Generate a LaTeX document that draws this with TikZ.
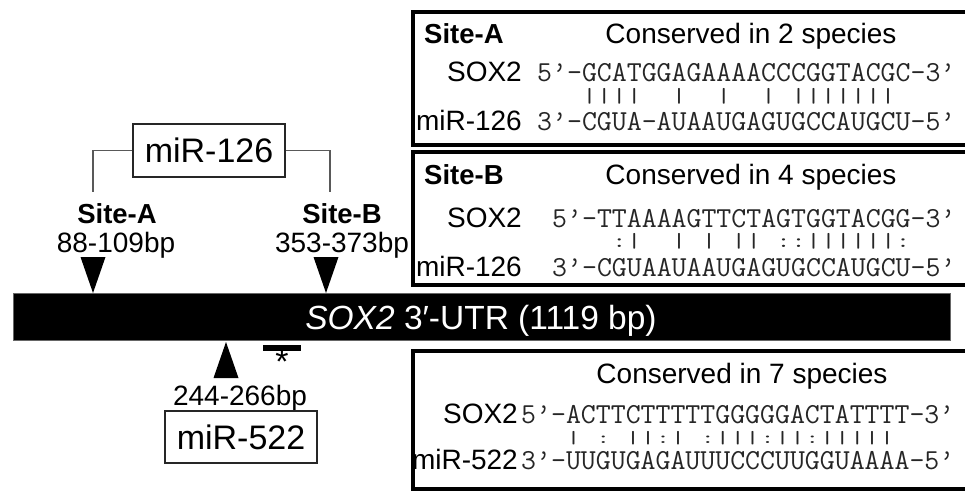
\documentclass[tikz,border=0pt]{standalone}
\usepackage{fontspec}
\setmainfont{Liberation Sans}
\tikzset{
  bigbox/.style={draw=black, line width=4pt},
  seq/.style={font=\ttfamily\fontsize{29}{31}\selectfont, inner sep=0pt, anchor=base west, text=black!85},
  pipes/.style={font=\ttfamily\fontsize{29}{31}\selectfont, inner sep=0pt, anchor=base west, text=black!85},
  rowlab/.style={font=\fontsize{28}{30}\selectfont, inner sep=0pt, anchor=base east},
  title/.style={font=\fontsize{28}{30}\selectfont, inner sep=0pt, anchor=base},
  sitelab/.style={font=\bfseries\fontsize{27.5}{30}\selectfont, inner sep=0pt, anchor=base west},
  poslab/.style={font=\fontsize{28}{30}\selectfont, inner sep=0pt, anchor=base},
  mirbox/.style={draw=black!85, line width=1.3pt, minimum width=152pt, minimum height=53pt, inner sep=0pt, font=\fontsize{34}{36}\selectfont},
  conn/.style={draw=black!65, line width=1.2pt},
  marker/.style={fill=black},
}
\begin{document}
\begin{tikzpicture}[x=1pt,y=-1pt]
\useasboundingbox (0,0) rectangle (965,491);
\begin{scope}
\clip (0,0) rectangle (965,491);
% ---------- alignment boxes ----------
\draw[bigbox] (413,12) rectangle (985,144.5);
\draw[bigbox] (413,152) rectangle (985,285);
\draw[bigbox] (413,350.5) rectangle (985,488.5);
\end{scope}

% Box A
\node[sitelab] (sA) at (424,43) {Site-A};
\node[title] (tA) at (751,43) {Conserved in 2 species};
\node[rowlab] (sxA) at (522,81) {SOX2};
\node[seq] (qsA) at (537,81) {5’-GCATGGAGAAAACCCGGTACGC-3’};
\node[pipes] (pA) at (537,102.5) {\scalebox{1}[0.7]{~~~||||~~|~~|~~|~|||||||}};
\node[rowlab] (mA) at (522,130) {miR-126};
\node[seq] (qmA) at (537,130) {3’-CGUA-AUAAUGAGUGCCAUGCU-5’};

% Box B
\node[sitelab] (sB) at (424,184) {Site-B};
\node[title] (tB) at (751,184) {Conserved in 4 species};
\node[rowlab] (sxB) at (522,227) {SOX2};
\node[seq] (qsB) at (552,227) {5’-TTAAAAGTTCTAGTGGTACGG-3’};
\node[pipes] (pB) at (552,247.5) {\scalebox{1}[0.7]{~~~~:|~~|~|~||~::||||||:}};
\node[rowlab] (mB) at (522,276) {miR-126};
\node[seq] (qmB) at (552,276) {3’-CGUAAUAAUGAGUGCCAUGCU-5’};

% Box C
\node[title] (tC) at (742,383) {Conserved in 7 species};
\node[rowlab] (sxC) at (518,423) {SOX2};
\node[seq] (qsC) at (521,423) {5’-ACTTCTTTTTGGGGGACTATTTT-3’};
\node[pipes] (pC) at (521,443.5) {\scalebox{1}[0.6]{~~~|~:~||:|~:|||:||:|||||}};
\node[rowlab] (mC) at (518,469) {miR-522};
\node[seq] (qmC) at (521,469) {3’-UUGUGAGAUUUCCCUUGGUAAAA-5’};

% ---------- UTR bar ----------
\node[fill=black, draw=black!60, line width=0.6pt, minimum width=937pt, minimum height=47pt, inner sep=0pt] (utr) at (481.5,316.5) {};
\node[font=\fontsize{33.5}{35}\selectfont, text=white, inner sep=0pt, anchor=base] (utrlab) at (481,329) {\textit{SOX2} 3′-UTR (1119 bp)};

% ---------- site markers ----------
\fill[marker] (80.5,257) -- (105.5,257) -- (93,293) -- cycle;
\fill[marker] (313.5,257) -- (338.5,257) -- (326,293) -- cycle;
\fill[marker] (213.5,378) -- (238.5,378) -- (226,342) -- cycle;
\fill[marker] (263,345) rectangle (301,351);
\node[font=\fontsize{34}{36}\selectfont, inner sep=0pt] (star) at (282,362) {*};

% ---------- labels ----------
\node[sitelab, anchor=base] (lA) at (117,223) {Site-A};
\node[poslab] (pA1) at (116,252) {88-109bp};
\node[sitelab, anchor=base] (lB) at (342,223) {Site-B};
\node[poslab] (pB1) at (342,252) {353-373bp};
\node[poslab] (p522) at (240,405) {244-266bp};

% ---------- miRNA boxes ----------
\node[mirbox] (m126) at (209,150.5) {miR-126};
\node[mirbox, minimum height=52pt] (m522) at (241,437) {miR-522};

\coordinate (ca) at (93,192);
\coordinate (cb) at (330,192);
\draw[conn] (m126.west) -| (ca);
\draw[conn] (m126.east) -| (cb);
\end{tikzpicture}
\end{document}
